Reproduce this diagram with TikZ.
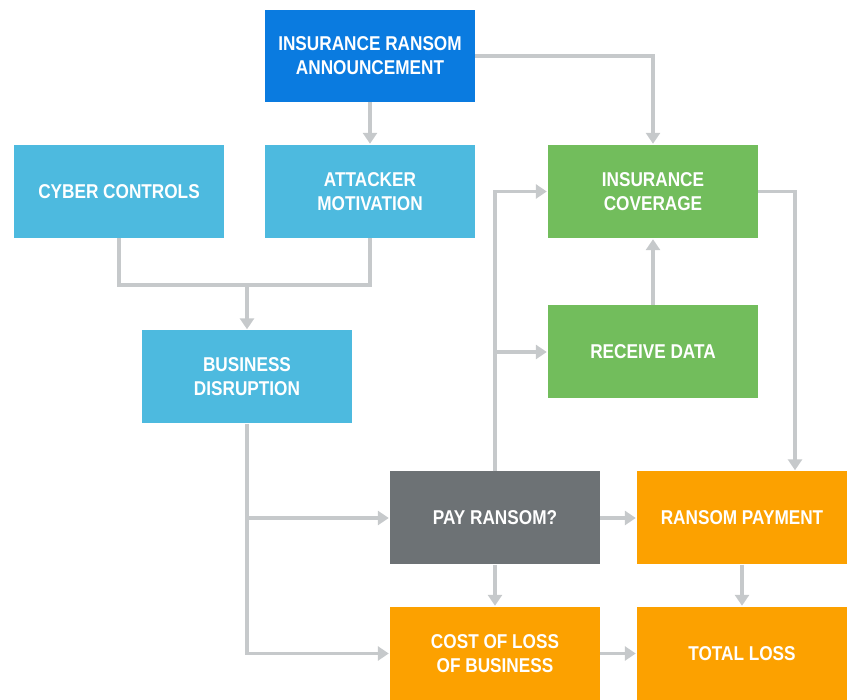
\documentclass[tikz,border=0pt]{standalone}
\usepackage{fontspec}
\newfontfamily\lbl[FakeStretch=0.86]{Liberation Sans}
\usetikzlibrary{arrows.meta}
\definecolor{dblue}{HTML}{0A7BE0}
\definecolor{lblue}{HTML}{4DBADF}
\definecolor{lgreen}{HTML}{72BD5C}
\definecolor{dgray}{HTML}{6D7275}
\definecolor{orng}{HTML}{FCA100}
\definecolor{conn}{HTML}{C6C9CB}
\tikzset{
  box/.style={rectangle, inner sep=0pt, minimum width=210pt, minimum height=93pt,
    text=white, align=center, font=\lbl\bfseries\fontsize{20pt}{24pt}\selectfont},
  line/.style={draw=conn, line width=3.5pt, line join=miter},
  arr/.style={line, -{Triangle[width=14pt,length=11pt]}, shorten >=1pt},
}
\begin{document}
\begin{tikzpicture}[x=1pt,y=-1pt]
\useasboundingbox (0,0) rectangle (847,700);
\node[box, fill=dblue, minimum height=92pt] (ann) at (370,56) {INSURANCE RANSOM\\ANNOUNCEMENT};
\node[box, fill=lblue] (cyber) at (119,191.5) {CYBER CONTROLS};
\node[box, fill=lblue] (att) at (370,191.5) {ATTACKER\\MOTIVATION};
\node[box, fill=lgreen] (cov) at (653,191.5) {INSURANCE\\COVERAGE};
\node[box, fill=lgreen] (recv) at (653,352) {RECEIVE DATA};
\node[box, fill=lblue] (bus) at (247,377) {BUSINESS\\DISRUPTION};
\node[box, fill=dgray] (pay) at (495,518) {PAY RANSOM?};
\node[box, fill=orng] (rpay) at (742,518) {RANSOM PAYMENT};
\node[box, fill=orng] (cost) at (495,653.5) {COST OF LOSS\\OF BUSINESS};
\node[box, fill=orng] (total) at (742,653.5) {TOTAL LOSS};
\coordinate (j1) at (247,285);
\coordinate (k) at (795,191.5);
% connectors
\draw[arr] (ann.east) -| (cov.north);
\draw[arr] (ann.south) -- (att.north);
\draw[line] (cyber.south) -- (cyber.south |- j1) -- (att.south |- j1) -- (att.south);
\draw[arr] (j1) -- (bus.north);
\draw[arr] (bus.south) |- (cost.west);
\draw[arr] (bus.south |- pay.west) -- (pay.west);
\draw[arr] (pay.north) |- (cov.west);
\draw[arr] (pay.north |- recv.west) -- (recv.west);
\draw[arr] (recv.north) -- (cov.south);
\draw[arr] (cov.east) -- (k) -- (k |- rpay.north);
\draw[arr] (pay.east) -- (rpay.west);
\draw[arr] (pay.south) -- (cost.north);
\draw[arr] (rpay.south) -- (total.north);
\draw[arr] (cost.east) -- (total.west);
\end{tikzpicture}
\end{document}
